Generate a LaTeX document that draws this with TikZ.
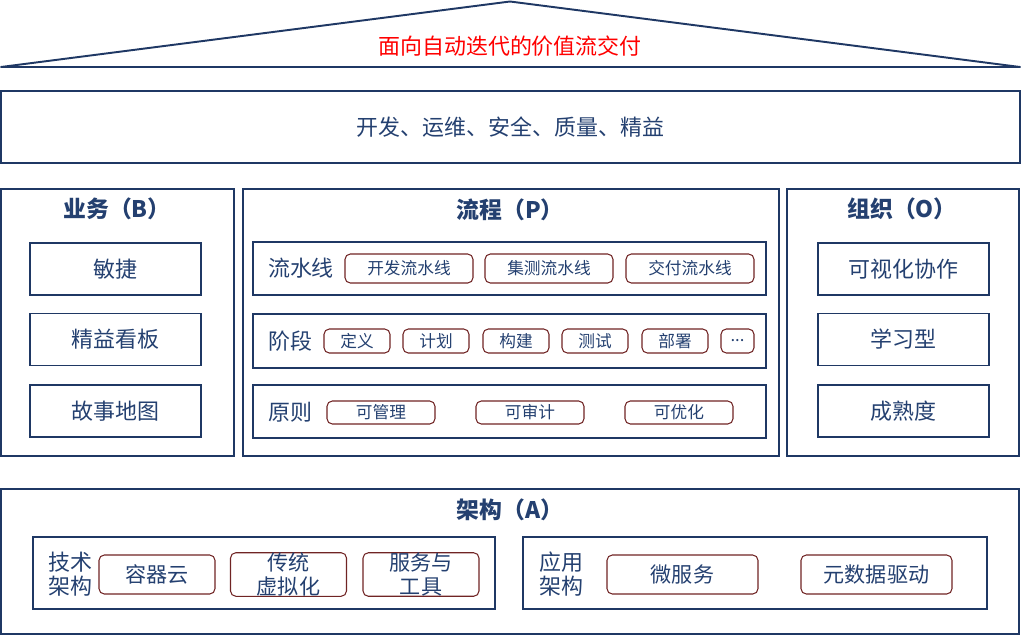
\documentclass[tikz,border=0pt]{standalone}
\usepackage{fontspec}
\setmainfont{Noto Sans CJK SC}
\definecolor{navy}{RGB}{31,56,100}
\definecolor{navytext}{RGB}{36,64,112}
\definecolor{pillred}{RGB}{112,36,36}

\begin{document}
\begin{tikzpicture}[x=0.02cm, y=-0.02cm,
  box/.style={draw=navy, line width=1.1pt, text=navytext, inner sep=0pt, font=\fontsize{12.5}{15}\selectfont},
  pill/.style={draw=pillred, line width=0.6pt, rounded corners=3pt, text=navytext, inner sep=0pt, font=\fontsize{9.5}{11}\selectfont},
  bigpill/.style={pill, font=\fontsize{12}{13.7}\selectfont, align=center},
  headtext/.style={text=navytext, font=\fontsize{13}{15}\selectfont\bfseries},
  rowname/.style={text=navytext, font=\fontsize{12.5}{13.7}\selectfont, align=center}]
\useasboundingbox (0,0) rectangle (1021,636);

% roof
\draw [navy, line width=1.1pt, line join=round] (1,67) -- (510,1.5) -- (1020,67) -- cycle;
\node (roof) at (510,46) [text=red, font=\fontsize{12.5}{15}\selectfont]{面向自动迭代的价值流交付};

\node (T) at (510.5,127) [box, minimum width=20.38cm, minimum height=1.44cm]{开发、运维、安全、质量、精益};

% business
\node (B) at (117.5,322.5) [box, minimum width=4.66cm, minimum height=5.34cm]{};
\node (B-0) at (117,209) [headtext]{业务（B）};
\node (B-1) at (115.5,269) [box, minimum width=3.42cm, minimum height=1.04cm]{敏捷};
\node (B-2) at (115.5,339.5) [box, minimum width=3.42cm, minimum height=1.04cm]{精益看板};
\node (B-3) at (115.5,411) [box, minimum width=3.42cm, minimum height=1.04cm]{故事地图};

% process
\node (P) at (511,322.5) [box, minimum width=10.72cm, minimum height=5.34cm]{};
\node (P-0) at (510,210) [headtext]{流程（P）};

\node (P-1) at (509.5,268.5) [box, minimum width=10.26cm, minimum height=1.06cm]{};
\node (P-1-0) at (301,268) [rowname]{流水线};
\node (P-1-1) at (409,268.5) [pill, minimum width=2.56cm, minimum height=0.58cm]{开发流水线};
\node (P-1-2) at (549,268.5) [pill, minimum width=2.56cm, minimum height=0.58cm]{集测流水线};
\node (P-1-3) at (690,268.5) [pill, minimum width=2.56cm, minimum height=0.58cm]{交付流水线};

\node (P-2) at (509.5,341) [box, minimum width=10.26cm, minimum height=1.08cm]{};
\node (P-2-0) at (290,341) [rowname]{阶段};
\node (P-2-1) at (357,341) [pill, minimum width=1.32cm, minimum height=0.48cm]{定义};
\node (P-2-2) at (436,341) [pill, minimum width=1.32cm, minimum height=0.48cm]{计划};
\node (P-2-3) at (516,341) [pill, minimum width=1.32cm, minimum height=0.48cm]{构建};
\node (P-2-4) at (595,341) [pill, minimum width=1.32cm, minimum height=0.48cm]{测试};
\node (P-2-5) at (675,341) [pill, minimum width=1.32cm, minimum height=0.48cm]{部署};
\node (P-2-6) at (737.5,341) [pill, minimum width=0.66cm, minimum height=0.48cm]{...};

\node (P-3) at (509.5,411.5) [box, minimum width=10.26cm, minimum height=1.06cm]{};
\node (P-3-0) at (290,412) [rowname]{原则};
\node (P-3-1) at (381,412.5) [pill, minimum width=2.16cm, minimum height=0.46cm]{可管理};
\node (P-3-2) at (530,412.5) [pill, minimum width=2.16cm, minimum height=0.46cm]{可审计};
\node (P-3-3) at (679,412.5) [pill, minimum width=2.16cm, minimum height=0.46cm]{可优化};

% organisation
\node (O) at (903,322.5) [box, minimum width=4.64cm, minimum height=5.34cm]{};
\node (O-0) at (902,209) [headtext]{组织（O）};
\node (O-1) at (903.5,269) [box, minimum width=3.42cm, minimum height=1.04cm]{可视化协作};
\node (O-2) at (903.5,339.5) [box, minimum width=3.42cm, minimum height=1.04cm]{学习型};
\node (O-3) at (903.5,411) [box, minimum width=3.42cm, minimum height=1.04cm]{成熟度};

% architecture
\node (A) at (510,561.5) [box, minimum width=20.36cm, minimum height=2.9cm]{};
\node (A-0) at (510,510) [headtext]{架构（A）};

\node (A-1) at (264,573) [box, minimum width=9.24cm, minimum height=1.44cm]{};
\node (A-1-0) at (70,574) [rowname]{技术\\架构};
\node (A-1-1) at (157,574.5) [bigpill, minimum width=2.32cm, minimum height=0.78cm]{容器云};
\node (A-1-2) at (288.5,574.5) [bigpill, minimum width=2.32cm, minimum height=0.78cm]{传统\\虚拟化};
\node (A-1-3) at (421,574.5) [bigpill, minimum width=2.32cm, minimum height=0.78cm]{服务与\\工具};

\node (A-2) at (755,573) [box, minimum width=9.28cm, minimum height=1.44cm]{};
\node (A-2-0) at (561,574) [rowname]{应用\\架构};
\node (A-2-1) at (682.5,574.5) [bigpill, minimum width=3.02cm, minimum height=0.78cm]{微服务};
\node (A-2-2) at (876.5,574.5) [bigpill, minimum width=3.02cm, minimum height=0.78cm]{元数据驱动};

\end{tikzpicture}
\end{document}
